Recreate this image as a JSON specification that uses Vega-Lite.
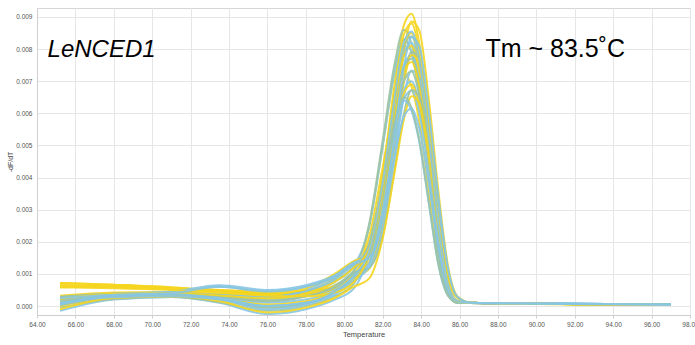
{
"$schema":"https://vega.github.io/schema/vega-lite/v6.json",
"width":653,"height":307,
"autosize":{"type":"none"},
"padding":{"left":37,"top":8,"right":5,"bottom":30},
"background":"white",
"config":{"view":{"stroke":"#d6d6d6"},"axis":{"labelFont":"Liberation Sans, sans-serif","titleFont":"Liberation Sans, sans-serif","labelColor":"#555555","titleColor":"#444444","titleFontWeight":"normal","domainColor":"#cfcfcf","tickColor":"#cfcfcf","gridColor":"#e6e6e6","labelOverlap":false}},
"datasets":{"curves":[
{"c":1,"g":"Y","t":65.2,"v":0.65},{"c":1,"g":"Y","t":68,"v":0.62},{"c":1,"g":"Y","t":71,"v":0.55},{"c":1,"g":"Y","t":73.5,"v":0.5},{"c":1,"g":"Y","t":76,"v":0.42},{"c":1,"g":"Y","t":78,"v":0.45},{"c":1,"g":"Y","t":79.5,"v":0.6},{"c":1,"g":"Y","t":80.5,"v":1.0},{"c":1,"g":"Y","t":81.3,"v":1.82},{"c":1,"g":"Y","t":82,"v":4.1},{"c":1,"g":"Y","t":82.6,"v":6.83},{"c":1,"g":"Y","t":83.1,"v":8.74},{"c":1,"g":"Y","t":83.5,"v":9.1},{"c":1,"g":"Y","t":83.9,"v":8.19},{"c":1,"g":"Y","t":84.4,"v":5.64},{"c":1,"g":"Y","t":84.9,"v":2.73},{"c":1,"g":"Y","t":85.4,"v":0.73},{"c":1,"g":"Y","t":85.9,"v":0.15},{"c":1,"g":"Y","t":86.6,"v":0.1},{"c":1,"g":"Y","t":90,"v":0.07},{"c":1,"g":"Y","t":97,"v":0.03},
{"c":4,"g":"Y","t":65.2,"v":0.6},{"c":4,"g":"Y","t":68,"v":0.58},{"c":4,"g":"Y","t":71,"v":0.52},{"c":4,"g":"Y","t":73.5,"v":0.45},{"c":4,"g":"Y","t":76,"v":0.35},{"c":4,"g":"Y","t":78,"v":0.35},{"c":4,"g":"Y","t":79.5,"v":0.5},{"c":4,"g":"Y","t":80.5,"v":0.8},{"c":4,"g":"Y","t":81.3,"v":2.49},{"c":4,"g":"Y","t":82,"v":4.98},{"c":4,"g":"Y","t":82.6,"v":7.22},{"c":4,"g":"Y","t":83.1,"v":8.3},{"c":4,"g":"Y","t":83.5,"v":7.89},{"c":4,"g":"Y","t":83.9,"v":6.64},{"c":4,"g":"Y","t":84.4,"v":4.15},{"c":4,"g":"Y","t":84.9,"v":1.66},{"c":4,"g":"Y","t":85.4,"v":0.42},{"c":4,"g":"Y","t":85.9,"v":0.1},{"c":4,"g":"Y","t":86.6,"v":0.09},{"c":4,"g":"Y","t":90,"v":0.06},{"c":4,"g":"Y","t":97,"v":0.03},
{"c":8,"g":"Y","t":65.2,"v":0.72},{"c":8,"g":"Y","t":68,"v":0.66},{"c":8,"g":"Y","t":71,"v":0.58},{"c":8,"g":"Y","t":73.5,"v":0.48},{"c":8,"g":"Y","t":76,"v":0.38},{"c":8,"g":"Y","t":78,"v":0.4},{"c":8,"g":"Y","t":79.5,"v":0.55},{"c":8,"g":"Y","t":80.5,"v":0.9},{"c":8,"g":"Y","t":81.3,"v":2.16},{"c":8,"g":"Y","t":82,"v":4.32},{"c":8,"g":"Y","t":82.6,"v":6.26},{"c":8,"g":"Y","t":83.1,"v":7.2},{"c":8,"g":"Y","t":83.5,"v":6.84},{"c":8,"g":"Y","t":83.9,"v":5.76},{"c":8,"g":"Y","t":84.4,"v":3.6},{"c":8,"g":"Y","t":84.9,"v":1.44},{"c":8,"g":"Y","t":85.4,"v":0.36},{"c":8,"g":"Y","t":85.9,"v":0.1},{"c":8,"g":"Y","t":86.6,"v":0.09},{"c":8,"g":"Y","t":90,"v":0.06},{"c":8,"g":"Y","t":97,"v":0.03},
{"c":14,"g":"B","t":65.2,"v":0.18},{"c":14,"g":"B","t":68,"v":0.33},{"c":14,"g":"B","t":71,"v":0.36},{"c":14,"g":"B","t":73.5,"v":0.32},{"c":14,"g":"B","t":76,"v":0.25},{"c":14,"g":"B","t":78,"v":0.4},{"c":14,"g":"B","t":79.5,"v":0.75},{"c":14,"g":"B","t":80.5,"v":1.25},{"c":14,"g":"B","t":81.3,"v":2.49},{"c":14,"g":"B","t":82,"v":4.98},{"c":14,"g":"B","t":82.6,"v":7.22},{"c":14,"g":"B","t":83.1,"v":8.3},{"c":14,"g":"B","t":83.5,"v":7.89},{"c":14,"g":"B","t":83.9,"v":6.64},{"c":14,"g":"B","t":84.4,"v":4.15},{"c":14,"g":"B","t":84.9,"v":1.66},{"c":14,"g":"B","t":85.4,"v":0.42},{"c":14,"g":"B","t":85.9,"v":0.1},{"c":14,"g":"B","t":86.6,"v":0.09},{"c":14,"g":"B","t":90,"v":0.07},{"c":14,"g":"B","t":97,"v":0.04},
{"c":22,"g":"G","t":65.2,"v":0.25},{"c":22,"g":"G","t":68,"v":0.37},{"c":22,"g":"G","t":71,"v":0.4},{"c":22,"g":"G","t":73.5,"v":0.28},{"c":22,"g":"G","t":76,"v":0.15},{"c":22,"g":"G","t":78,"v":0.3},{"c":22,"g":"G","t":79.5,"v":0.65},{"c":22,"g":"G","t":80.5,"v":1.1},{"c":22,"g":"G","t":81.3,"v":2.58},{"c":22,"g":"G","t":82,"v":5.16},{"c":22,"g":"G","t":82.6,"v":7.48},{"c":22,"g":"G","t":83.1,"v":8.6},{"c":22,"g":"G","t":83.5,"v":8.17},{"c":22,"g":"G","t":83.9,"v":6.88},{"c":22,"g":"G","t":84.4,"v":4.3},{"c":22,"g":"G","t":84.9,"v":1.72},{"c":22,"g":"G","t":85.4,"v":0.43},{"c":22,"g":"G","t":85.9,"v":0.1},{"c":22,"g":"G","t":86.6,"v":0.09},{"c":22,"g":"G","t":90,"v":0.07},{"c":22,"g":"G","t":97,"v":0.04},
{"c":2,"g":"Y","t":65.2,"v":0.72},{"c":2,"g":"Y","t":68,"v":0.66},{"c":2,"g":"Y","t":71,"v":0.58},{"c":2,"g":"Y","t":73.5,"v":0.48},{"c":2,"g":"Y","t":76,"v":0.38},{"c":2,"g":"Y","t":78,"v":0.4},{"c":2,"g":"Y","t":79.5,"v":0.55},{"c":2,"g":"Y","t":80.5,"v":0.9},{"c":2,"g":"Y","t":81.3,"v":1.16},{"c":2,"g":"Y","t":82,"v":2.86},{"c":2,"g":"Y","t":82.6,"v":5.55},{"c":2,"g":"Y","t":83.1,"v":7.88},{"c":2,"g":"Y","t":83.5,"v":8.86},{"c":2,"g":"Y","t":83.9,"v":8.59},{"c":2,"g":"Y","t":84.4,"v":6.44},{"c":2,"g":"Y","t":84.9,"v":3.58},{"c":2,"g":"Y","t":85.4,"v":1.25},{"c":2,"g":"Y","t":85.9,"v":0.3},{"c":2,"g":"Y","t":86.6,"v":0.1},{"c":2,"g":"Y","t":90,"v":0.07},{"c":2,"g":"Y","t":97,"v":0.03},
{"c":15,"g":"B","t":65.2,"v":-0.15},{"c":15,"g":"B","t":68,"v":0.2},{"c":15,"g":"B","t":71,"v":0.28},{"c":15,"g":"B","t":73.5,"v":0.1},{"c":15,"g":"B","t":76,"v":-0.25},{"c":15,"g":"B","t":78,"v":-0.1},{"c":15,"g":"B","t":79.5,"v":0.2},{"c":15,"g":"B","t":80.5,"v":0.55},{"c":15,"g":"B","t":81.3,"v":1.64},{"c":15,"g":"B","t":82,"v":3.69},{"c":15,"g":"B","t":82.6,"v":6.15},{"c":15,"g":"B","t":83.1,"v":7.87},{"c":15,"g":"B","t":83.5,"v":8.2},{"c":15,"g":"B","t":83.9,"v":7.38},{"c":15,"g":"B","t":84.4,"v":5.08},{"c":15,"g":"B","t":84.9,"v":2.46},{"c":15,"g":"B","t":85.4,"v":0.66},{"c":15,"g":"B","t":85.9,"v":0.15},{"c":15,"g":"B","t":86.6,"v":0.1},{"c":15,"g":"B","t":90,"v":0.08},{"c":15,"g":"B","t":97,"v":0.04},
{"c":23,"g":"G","t":65.2,"v":-0.05},{"c":23,"g":"G","t":68,"v":0.22},{"c":23,"g":"G","t":71,"v":0.28},{"c":23,"g":"G","t":73.5,"v":0.12},{"c":23,"g":"G","t":76,"v":-0.15},{"c":23,"g":"G","t":78,"v":0.0},{"c":23,"g":"G","t":79.5,"v":0.3},{"c":23,"g":"G","t":80.5,"v":0.7},{"c":23,"g":"G","t":81.3,"v":1.68},{"c":23,"g":"G","t":82,"v":3.78},{"c":23,"g":"G","t":82.6,"v":6.3},{"c":23,"g":"G","t":83.1,"v":8.06},{"c":23,"g":"G","t":83.5,"v":8.4},{"c":23,"g":"G","t":83.9,"v":7.56},{"c":23,"g":"G","t":84.4,"v":5.21},{"c":23,"g":"G","t":84.9,"v":2.52},{"c":23,"g":"G","t":85.4,"v":0.67},{"c":23,"g":"G","t":85.9,"v":0.15},{"c":23,"g":"G","t":86.6,"v":0.1},{"c":23,"g":"G","t":90,"v":0.07},{"c":23,"g":"G","t":97,"v":0.04},
{"c":5,"g":"Y","t":65.2,"v":0.0},{"c":5,"g":"Y","t":68,"v":0.28},{"c":5,"g":"Y","t":71,"v":0.33},{"c":5,"g":"Y","t":73.5,"v":0.18},{"c":5,"g":"Y","t":76,"v":-0.05},{"c":5,"g":"Y","t":78,"v":0.1},{"c":5,"g":"Y","t":79.5,"v":0.45},{"c":5,"g":"Y","t":80.5,"v":0.95},{"c":5,"g":"Y","t":81.3,"v":1.62},{"c":5,"g":"Y","t":82,"v":3.65},{"c":5,"g":"Y","t":82.6,"v":6.08},{"c":5,"g":"Y","t":83.1,"v":7.78},{"c":5,"g":"Y","t":83.5,"v":8.1},{"c":5,"g":"Y","t":83.9,"v":7.29},{"c":5,"g":"Y","t":84.4,"v":5.02},{"c":5,"g":"Y","t":84.9,"v":2.43},{"c":5,"g":"Y","t":85.4,"v":0.65},{"c":5,"g":"Y","t":85.9,"v":0.15},{"c":5,"g":"Y","t":86.6,"v":0.1},{"c":5,"g":"Y","t":90,"v":0.07},{"c":5,"g":"Y","t":97,"v":0.03},
{"c":16,"g":"B","t":65.2,"v":0.3},{"c":16,"g":"B","t":68,"v":0.4},{"c":16,"g":"B","t":71,"v":0.42},{"c":16,"g":"B","t":73.5,"v":0.35},{"c":16,"g":"B","t":76,"v":0.3},{"c":16,"g":"B","t":78,"v":0.5},{"c":16,"g":"B","t":79.5,"v":0.95},{"c":16,"g":"B","t":80.5,"v":1.4},{"c":16,"g":"B","t":81.3,"v":1.6},{"c":16,"g":"B","t":82,"v":3.51},{"c":16,"g":"B","t":82.6,"v":5.85},{"c":16,"g":"B","t":83.1,"v":7.49},{"c":16,"g":"B","t":83.5,"v":7.8},{"c":16,"g":"B","t":83.9,"v":7.02},{"c":16,"g":"B","t":84.4,"v":4.84},{"c":16,"g":"B","t":84.9,"v":2.34},{"c":16,"g":"B","t":85.4,"v":0.62},{"c":16,"g":"B","t":85.9,"v":0.15},{"c":16,"g":"B","t":86.6,"v":0.1},{"c":16,"g":"B","t":90,"v":0.08},{"c":16,"g":"B","t":97,"v":0.04},
{"c":24,"g":"G","t":65.2,"v":0.25},{"c":24,"g":"G","t":68,"v":0.35},{"c":24,"g":"G","t":71,"v":0.4},{"c":24,"g":"G","t":73.5,"v":0.6},{"c":24,"g":"G","t":76,"v":0.45},{"c":24,"g":"G","t":78,"v":0.6},{"c":24,"g":"G","t":79.5,"v":0.9},{"c":24,"g":"G","t":80.5,"v":1.3},{"c":24,"g":"G","t":81.3,"v":1.5},{"c":24,"g":"G","t":82,"v":2.56},{"c":24,"g":"G","t":82.6,"v":4.96},{"c":24,"g":"G","t":83.1,"v":7.04},{"c":24,"g":"G","t":83.5,"v":7.92},{"c":24,"g":"G","t":83.9,"v":7.68},{"c":24,"g":"G","t":84.4,"v":5.76},{"c":24,"g":"G","t":84.9,"v":3.2},{"c":24,"g":"G","t":85.4,"v":1.12},{"c":24,"g":"G","t":85.9,"v":0.28},{"c":24,"g":"G","t":86.6,"v":0.1},{"c":24,"g":"G","t":90,"v":0.07},{"c":24,"g":"G","t":97,"v":0.04},
{"c":6,"g":"Y","t":65.2,"v":0.65},{"c":6,"g":"Y","t":68,"v":0.6},{"c":6,"g":"Y","t":71,"v":0.54},{"c":6,"g":"Y","t":73.5,"v":0.5},{"c":6,"g":"Y","t":76,"v":0.44},{"c":6,"g":"Y","t":78,"v":0.48},{"c":6,"g":"Y","t":79.5,"v":0.62},{"c":6,"g":"Y","t":80.5,"v":1.0},{"c":6,"g":"Y","t":81.3,"v":1.2},{"c":6,"g":"Y","t":82,"v":2.53},{"c":6,"g":"Y","t":82.6,"v":4.9},{"c":6,"g":"Y","t":83.1,"v":6.95},{"c":6,"g":"Y","t":83.5,"v":7.82},{"c":6,"g":"Y","t":83.9,"v":7.58},{"c":6,"g":"Y","t":84.4,"v":5.69},{"c":6,"g":"Y","t":84.9,"v":3.16},{"c":6,"g":"Y","t":85.4,"v":1.11},{"c":6,"g":"Y","t":85.9,"v":0.28},{"c":6,"g":"Y","t":86.6,"v":0.1},{"c":6,"g":"Y","t":90,"v":0.07},{"c":6,"g":"Y","t":97,"v":0.03},
{"c":17,"g":"B","t":65.2,"v":0.15},{"c":17,"g":"B","t":68,"v":0.3},{"c":17,"g":"B","t":71,"v":0.32},{"c":17,"g":"B","t":73.5,"v":0.25},{"c":17,"g":"B","t":76,"v":0.1},{"c":17,"g":"B","t":78,"v":0.2},{"c":17,"g":"B","t":79.5,"v":0.5},{"c":17,"g":"B","t":80.5,"v":1.0},{"c":17,"g":"B","t":81.3,"v":1.2},{"c":17,"g":"B","t":82,"v":2.37},{"c":17,"g":"B","t":82.6,"v":4.59},{"c":17,"g":"B","t":83.1,"v":6.51},{"c":17,"g":"B","t":83.5,"v":7.33},{"c":17,"g":"B","t":83.9,"v":7.1},{"c":17,"g":"B","t":84.4,"v":5.33},{"c":17,"g":"B","t":84.9,"v":2.96},{"c":17,"g":"B","t":85.4,"v":1.04},{"c":17,"g":"B","t":85.9,"v":0.26},{"c":17,"g":"B","t":86.6,"v":0.1},{"c":17,"g":"B","t":90,"v":0.08},{"c":17,"g":"B","t":97,"v":0.04},
{"c":25,"g":"G","t":65.2,"v":0.02},{"c":25,"g":"G","t":68,"v":0.28},{"c":25,"g":"G","t":71,"v":0.33},{"c":25,"g":"G","t":73.5,"v":0.22},{"c":25,"g":"G","t":76,"v":-0.05},{"c":25,"g":"G","t":78,"v":0.08},{"c":25,"g":"G","t":79.5,"v":0.42},{"c":25,"g":"G","t":80.5,"v":0.92},{"c":25,"g":"G","t":81.3,"v":1.54},{"c":25,"g":"G","t":82,"v":3.47},{"c":25,"g":"G","t":82.6,"v":5.78},{"c":25,"g":"G","t":83.1,"v":7.39},{"c":25,"g":"G","t":83.5,"v":7.7},{"c":25,"g":"G","t":83.9,"v":6.93},{"c":25,"g":"G","t":84.4,"v":4.77},{"c":25,"g":"G","t":84.9,"v":2.31},{"c":25,"g":"G","t":85.4,"v":0.62},{"c":25,"g":"G","t":85.9,"v":0.15},{"c":25,"g":"G","t":86.6,"v":0.1},{"c":25,"g":"G","t":90,"v":0.07},{"c":25,"g":"G","t":97,"v":0.04},
{"c":7,"g":"Y","t":65.2,"v":0.32},{"c":7,"g":"Y","t":68,"v":0.42},{"c":7,"g":"Y","t":71,"v":0.44},{"c":7,"g":"Y","t":73.5,"v":0.38},{"c":7,"g":"Y","t":76,"v":0.35},{"c":7,"g":"Y","t":78,"v":0.55},{"c":7,"g":"Y","t":79.5,"v":1.0},{"c":7,"g":"Y","t":80.5,"v":1.4},{"c":7,"g":"Y","t":81.3,"v":1.6},{"c":7,"g":"Y","t":82,"v":3.42},{"c":7,"g":"Y","t":82.6,"v":5.7},{"c":7,"g":"Y","t":83.1,"v":7.3},{"c":7,"g":"Y","t":83.5,"v":7.6},{"c":7,"g":"Y","t":83.9,"v":6.84},{"c":7,"g":"Y","t":84.4,"v":4.71},{"c":7,"g":"Y","t":84.9,"v":2.28},{"c":7,"g":"Y","t":85.4,"v":0.61},{"c":7,"g":"Y","t":85.9,"v":0.15},{"c":7,"g":"Y","t":86.6,"v":0.1},{"c":7,"g":"Y","t":90,"v":0.07},{"c":7,"g":"Y","t":97,"v":0.03},
{"c":18,"g":"B","t":65.2,"v":0.28},{"c":18,"g":"B","t":68,"v":0.38},{"c":18,"g":"B","t":71,"v":0.45},{"c":18,"g":"B","t":73.5,"v":0.65},{"c":18,"g":"B","t":76,"v":0.5},{"c":18,"g":"B","t":78,"v":0.65},{"c":18,"g":"B","t":79.5,"v":0.95},{"c":18,"g":"B","t":80.5,"v":1.35},{"c":18,"g":"B","t":81.3,"v":1.55},{"c":18,"g":"B","t":82,"v":3.15},{"c":18,"g":"B","t":82.6,"v":5.25},{"c":18,"g":"B","t":83.1,"v":6.72},{"c":18,"g":"B","t":83.5,"v":7.0},{"c":18,"g":"B","t":83.9,"v":6.3},{"c":18,"g":"B","t":84.4,"v":4.34},{"c":18,"g":"B","t":84.9,"v":2.1},{"c":18,"g":"B","t":85.4,"v":0.56},{"c":18,"g":"B","t":85.9,"v":0.15},{"c":18,"g":"B","t":86.6,"v":0.1},{"c":18,"g":"B","t":90,"v":0.08},{"c":18,"g":"B","t":97,"v":0.04},
{"c":26,"g":"G","t":65.2,"v":0.28},{"c":26,"g":"G","t":68,"v":0.38},{"c":26,"g":"G","t":71,"v":0.4},{"c":26,"g":"G","t":73.5,"v":0.32},{"c":26,"g":"G","t":76,"v":0.25},{"c":26,"g":"G","t":78,"v":0.45},{"c":26,"g":"G","t":79.5,"v":0.85},{"c":26,"g":"G","t":80.5,"v":1.3},{"c":26,"g":"G","t":81.3,"v":1.6},{"c":26,"g":"G","t":82,"v":3.29},{"c":26,"g":"G","t":82.6,"v":5.48},{"c":26,"g":"G","t":83.1,"v":7.01},{"c":26,"g":"G","t":83.5,"v":7.3},{"c":26,"g":"G","t":83.9,"v":6.57},{"c":26,"g":"G","t":84.4,"v":4.53},{"c":26,"g":"G","t":84.9,"v":2.19},{"c":26,"g":"G","t":85.4,"v":0.58},{"c":26,"g":"G","t":85.9,"v":0.15},{"c":26,"g":"G","t":86.6,"v":0.1},{"c":26,"g":"G","t":90,"v":0.07},{"c":26,"g":"G","t":97,"v":0.04},
{"c":9,"g":"Y","t":65.2,"v":0.12},{"c":9,"g":"Y","t":68,"v":0.28},{"c":9,"g":"Y","t":71,"v":0.3},{"c":9,"g":"Y","t":73.5,"v":0.22},{"c":9,"g":"Y","t":76,"v":0.05},{"c":9,"g":"Y","t":78,"v":0.15},{"c":9,"g":"Y","t":79.5,"v":0.45},{"c":9,"g":"Y","t":80.5,"v":0.95},{"c":9,"g":"Y","t":81.3,"v":1.38},{"c":9,"g":"Y","t":82,"v":3.11},{"c":9,"g":"Y","t":82.6,"v":5.18},{"c":9,"g":"Y","t":83.1,"v":6.62},{"c":9,"g":"Y","t":83.5,"v":6.9},{"c":9,"g":"Y","t":83.9,"v":6.21},{"c":9,"g":"Y","t":84.4,"v":4.28},{"c":9,"g":"Y","t":84.9,"v":2.07},{"c":9,"g":"Y","t":85.4,"v":0.55},{"c":9,"g":"Y","t":85.9,"v":0.15},{"c":9,"g":"Y","t":86.6,"v":0.1},{"c":9,"g":"Y","t":90,"v":0.07},{"c":9,"g":"Y","t":97,"v":0.03},
{"c":19,"g":"B","t":65.2,"v":0.05},{"c":19,"g":"B","t":68,"v":0.3},{"c":19,"g":"B","t":71,"v":0.35},{"c":19,"g":"B","t":73.5,"v":0.2},{"c":19,"g":"B","t":76,"v":-0.1},{"c":19,"g":"B","t":78,"v":0.05},{"c":19,"g":"B","t":79.5,"v":0.4},{"c":19,"g":"B","t":80.5,"v":0.9},{"c":19,"g":"B","t":81.3,"v":1.34},{"c":19,"g":"B","t":82,"v":3.02},{"c":19,"g":"B","t":82.6,"v":5.03},{"c":19,"g":"B","t":83.1,"v":6.43},{"c":19,"g":"B","t":83.5,"v":6.7},{"c":19,"g":"B","t":83.9,"v":6.03},{"c":19,"g":"B","t":84.4,"v":4.15},{"c":19,"g":"B","t":84.9,"v":2.01},{"c":19,"g":"B","t":85.4,"v":0.54},{"c":19,"g":"B","t":85.9,"v":0.15},{"c":19,"g":"B","t":86.6,"v":0.1},{"c":19,"g":"B","t":90,"v":0.08},{"c":19,"g":"B","t":97,"v":0.04},
{"c":27,"g":"G","t":65.2,"v":0.18},{"c":27,"g":"G","t":68,"v":0.32},{"c":27,"g":"G","t":71,"v":0.35},{"c":27,"g":"G","t":73.5,"v":0.3},{"c":27,"g":"G","t":76,"v":0.2},{"c":27,"g":"G","t":78,"v":0.3},{"c":27,"g":"G","t":79.5,"v":0.6},{"c":27,"g":"G","t":80.5,"v":1.05},{"c":27,"g":"G","t":81.3,"v":1.2},{"c":27,"g":"G","t":82,"v":2.18},{"c":27,"g":"G","t":82.6,"v":4.22},{"c":27,"g":"G","t":83.1,"v":5.98},{"c":27,"g":"G","t":83.5,"v":6.73},{"c":27,"g":"G","t":83.9,"v":6.53},{"c":27,"g":"G","t":84.4,"v":4.9},{"c":27,"g":"G","t":84.9,"v":2.72},{"c":27,"g":"G","t":85.4,"v":0.95},{"c":27,"g":"G","t":85.9,"v":0.25},{"c":27,"g":"G","t":86.6,"v":0.1},{"c":27,"g":"G","t":90,"v":0.07},{"c":27,"g":"G","t":97,"v":0.04},
{"c":10,"g":"Y","t":65.2,"v":-0.1},{"c":10,"g":"Y","t":68,"v":0.25},{"c":10,"g":"Y","t":71,"v":0.3},{"c":10,"g":"Y","t":73.5,"v":0.15},{"c":10,"g":"Y","t":76,"v":-0.2},{"c":10,"g":"Y","t":78,"v":-0.05},{"c":10,"g":"Y","t":79.5,"v":0.25},{"c":10,"g":"Y","t":80.5,"v":0.6},{"c":10,"g":"Y","t":81.3,"v":0.86},{"c":10,"g":"Y","t":82,"v":2.11},{"c":10,"g":"Y","t":82.6,"v":4.09},{"c":10,"g":"Y","t":83.1,"v":5.81},{"c":10,"g":"Y","t":83.5,"v":6.53},{"c":10,"g":"Y","t":83.9,"v":6.34},{"c":10,"g":"Y","t":84.4,"v":4.75},{"c":10,"g":"Y","t":84.9,"v":2.64},{"c":10,"g":"Y","t":85.4,"v":0.92},{"c":10,"g":"Y","t":85.9,"v":0.25},{"c":10,"g":"Y","t":86.6,"v":0.1},{"c":10,"g":"Y","t":90,"v":0.07},{"c":10,"g":"Y","t":97,"v":0.03},
{"c":20,"g":"B","t":65.2,"v":0.22},{"c":20,"g":"B","t":68,"v":0.36},{"c":20,"g":"B","t":71,"v":0.4},{"c":20,"g":"B","t":73.5,"v":0.35},{"c":20,"g":"B","t":76,"v":0.28},{"c":20,"g":"B","t":78,"v":0.45},{"c":20,"g":"B","t":79.5,"v":0.8},{"c":20,"g":"B","t":80.5,"v":1.25},{"c":20,"g":"B","t":81.3,"v":1.92},{"c":20,"g":"B","t":82,"v":3.84},{"c":20,"g":"B","t":82.6,"v":5.57},{"c":20,"g":"B","t":83.1,"v":6.4},{"c":20,"g":"B","t":83.5,"v":6.08},{"c":20,"g":"B","t":83.9,"v":5.12},{"c":20,"g":"B","t":84.4,"v":3.2},{"c":20,"g":"B","t":84.9,"v":1.28},{"c":20,"g":"B","t":85.4,"v":0.32},{"c":20,"g":"B","t":85.9,"v":0.1},{"c":20,"g":"B","t":86.6,"v":0.09},{"c":20,"g":"B","t":90,"v":0.08},{"c":20,"g":"B","t":97,"v":0.04},
{"c":28,"g":"G","t":65.2,"v":0.1},{"c":28,"g":"G","t":68,"v":0.32},{"c":28,"g":"G","t":71,"v":0.36},{"c":28,"g":"G","t":73.5,"v":0.28},{"c":28,"g":"G","t":76,"v":0.15},{"c":28,"g":"G","t":78,"v":0.3},{"c":28,"g":"G","t":79.5,"v":0.6},{"c":28,"g":"G","t":80.5,"v":1.1},{"c":28,"g":"G","t":81.3,"v":1.95},{"c":28,"g":"G","t":82,"v":3.9},{"c":28,"g":"G","t":82.6,"v":5.66},{"c":28,"g":"G","t":83.1,"v":6.5},{"c":28,"g":"G","t":83.5,"v":6.18},{"c":28,"g":"G","t":83.9,"v":5.2},{"c":28,"g":"G","t":84.4,"v":3.25},{"c":28,"g":"G","t":84.9,"v":1.3},{"c":28,"g":"G","t":85.4,"v":0.33},{"c":28,"g":"G","t":85.9,"v":0.1},{"c":28,"g":"G","t":86.6,"v":0.09},{"c":28,"g":"G","t":90,"v":0.07},{"c":28,"g":"G","t":97,"v":0.04},
{"c":3,"g":"Y","t":65.2,"v":0.22},{"c":3,"g":"Y","t":68,"v":0.38},{"c":3,"g":"Y","t":71,"v":0.4},{"c":3,"g":"Y","t":73.5,"v":0.33},{"c":3,"g":"Y","t":76,"v":0.24},{"c":3,"g":"Y","t":78,"v":0.4},{"c":3,"g":"Y","t":79.5,"v":0.75},{"c":3,"g":"Y","t":80.5,"v":1.2},{"c":3,"g":"Y","t":81.3,"v":1.76},{"c":3,"g":"Y","t":82,"v":3.96},{"c":3,"g":"Y","t":82.6,"v":6.6},{"c":3,"g":"Y","t":83.1,"v":8.45},{"c":3,"g":"Y","t":83.5,"v":8.8},{"c":3,"g":"Y","t":83.9,"v":7.92},{"c":3,"g":"Y","t":84.4,"v":5.46},{"c":3,"g":"Y","t":84.9,"v":2.64},{"c":3,"g":"Y","t":85.4,"v":0.7},{"c":3,"g":"Y","t":85.9,"v":0.15},{"c":3,"g":"Y","t":86.6,"v":0.1},{"c":3,"g":"Y","t":90,"v":0.07},{"c":3,"g":"Y","t":97,"v":0.03},
{"c":21,"g":"B","t":65.2,"v":0.1},{"c":21,"g":"B","t":68,"v":0.27},{"c":21,"g":"B","t":71,"v":0.3},{"c":21,"g":"B","t":73.5,"v":0.2},{"c":21,"g":"B","t":76,"v":0.0},{"c":21,"g":"B","t":78,"v":0.1},{"c":21,"g":"B","t":79.5,"v":0.35},{"c":21,"g":"B","t":80.5,"v":0.8},{"c":21,"g":"B","t":81.3,"v":1.23},{"c":21,"g":"B","t":82,"v":2.77},{"c":21,"g":"B","t":82.6,"v":4.61},{"c":21,"g":"B","t":83.1,"v":5.9},{"c":21,"g":"B","t":83.5,"v":6.15},{"c":21,"g":"B","t":83.9,"v":5.54},{"c":21,"g":"B","t":84.4,"v":3.81},{"c":21,"g":"B","t":84.9,"v":1.85},{"c":21,"g":"B","t":85.4,"v":0.49},{"c":21,"g":"B","t":85.9,"v":0.15},{"c":21,"g":"B","t":86.6,"v":0.1},{"c":21,"g":"B","t":90,"v":0.08},{"c":21,"g":"B","t":97,"v":0.04},
{"c":11,"g":"Y","t":65.2,"v":0.58},{"c":11,"g":"Y","t":68,"v":0.55},{"c":11,"g":"Y","t":71,"v":0.5},{"c":11,"g":"Y","t":73.5,"v":0.42},{"c":11,"g":"Y","t":76,"v":0.32},{"c":11,"g":"Y","t":78,"v":0.3},{"c":11,"g":"Y","t":79.5,"v":0.42},{"c":11,"g":"Y","t":80.5,"v":0.75},{"c":11,"g":"Y","t":81.3,"v":1.7},{"c":11,"g":"Y","t":82,"v":3.83},{"c":11,"g":"Y","t":82.6,"v":6.38},{"c":11,"g":"Y","t":83.1,"v":8.16},{"c":11,"g":"Y","t":83.5,"v":8.5},{"c":11,"g":"Y","t":83.9,"v":7.65},{"c":11,"g":"Y","t":84.4,"v":5.27},{"c":11,"g":"Y","t":84.9,"v":2.55},{"c":11,"g":"Y","t":85.4,"v":0.68},{"c":11,"g":"Y","t":85.9,"v":0.15},{"c":11,"g":"Y","t":86.6,"v":0.1},{"c":11,"g":"Y","t":90,"v":0.07},{"c":11,"g":"Y","t":97,"v":0.03},
{"c":12,"g":"B","t":65.2,"v":0.08},{"c":12,"g":"B","t":68,"v":0.32},{"c":12,"g":"B","t":71,"v":0.37},{"c":12,"g":"B","t":73.5,"v":0.25},{"c":12,"g":"B","t":76,"v":0.0},{"c":12,"g":"B","t":78,"v":0.1},{"c":12,"g":"B","t":79.5,"v":0.45},{"c":12,"g":"B","t":80.5,"v":0.95},{"c":12,"g":"B","t":81.3,"v":1.71},{"c":12,"g":"B","t":82,"v":3.85},{"c":12,"g":"B","t":82.6,"v":6.41},{"c":12,"g":"B","t":83.1,"v":8.21},{"c":12,"g":"B","t":83.5,"v":8.55},{"c":12,"g":"B","t":83.9,"v":7.7},{"c":12,"g":"B","t":84.4,"v":5.3},{"c":12,"g":"B","t":84.9,"v":2.57},{"c":12,"g":"B","t":85.4,"v":0.68},{"c":12,"g":"B","t":85.9,"v":0.15},{"c":12,"g":"B","t":86.6,"v":0.1},{"c":12,"g":"B","t":90,"v":0.07},{"c":12,"g":"B","t":97,"v":0.04},
{"c":13,"g":"B","t":65.2,"v":0.25},{"c":13,"g":"B","t":68,"v":0.35},{"c":13,"g":"B","t":71,"v":0.4},{"c":13,"g":"B","t":73.5,"v":0.6},{"c":13,"g":"B","t":76,"v":0.45},{"c":13,"g":"B","t":78,"v":0.6},{"c":13,"g":"B","t":79.5,"v":0.9},{"c":13,"g":"B","t":80.5,"v":1.3},{"c":13,"g":"B","t":81.3,"v":1.5},{"c":13,"g":"B","t":82,"v":2.7},{"c":13,"g":"B","t":82.6,"v":5.24},{"c":13,"g":"B","t":83.1,"v":7.44},{"c":13,"g":"B","t":83.5,"v":8.37},{"c":13,"g":"B","t":83.9,"v":8.11},{"c":13,"g":"B","t":84.4,"v":6.08},{"c":13,"g":"B","t":84.9,"v":3.38},{"c":13,"g":"B","t":85.4,"v":1.18},{"c":13,"g":"B","t":85.9,"v":0.28},{"c":13,"g":"B","t":86.6,"v":0.1},{"c":13,"g":"B","t":90,"v":0.08},{"c":13,"g":"B","t":97,"v":0.04}
]},
"layer":[
{"data":{"name":"curves"},
 "mark":{"type":"line","interpolate":"monotone","strokeWidth":2,"opacity":0.9,"clip":true},
 "encoding":{
  "x":{"field":"t","type":"quantitative","scale":{"domain":[64,98],"nice":false,"zero":false},
   "axis":{"values":[64,66,68,70,72,74,76,78,80,82,84,86,88,90,92,94,96,98],"tickCount":40,"format":".2f","title":"Temperature","labelFontSize":6.5,"titleFontSize":7.5,"tickSize":3,"labelPadding":3,"titlePadding":3,"grid":true,"labelOverlap":false,"labelFlush":false}},
  "y":{"field":"v","type":"quantitative","scale":{"domain":[-0.28,9.28],"nice":false,"zero":false},
   "axis":{"values":[0,1,2,3,4,5,6,7,8,9],"tickCount":20,"labelExpr":"format(datum.value/1000,'.3f')","title":"-dF/dT","labelFontSize":6.5,"titleFontSize":7,"ticks":false,"labelPadding":5,"titlePadding":2,"grid":true,"labelOverlap":false}},
  "detail":{"field":"c","type":"nominal"},
  "color":{"field":"g","type":"nominal","scale":{"domain":["B","G","Y"],"range":["#86C5E5","#9CC3A5","#F5D51F"]},"legend":null}
 }},
{"data":{"values":[{"label":"LeNCED1"}]},
 "mark":{"type":"text","align":"left","baseline":"alphabetic","fontSize":24,"fontStyle":"italic","font":"Liberation Sans, sans-serif","color":"#000000"},
 "encoding":{"x":{"datum":64.55},"y":{"datum":7.76},"text":{"field":"label"}}},
{"data":{"values":[{"label":"Tm ~ 83.5˚C"}]},
 "mark":{"type":"text","align":"left","baseline":"alphabetic","fontSize":25,"font":"Liberation Sans, sans-serif","color":"#000000"},
 "encoding":{"x":{"datum":87.35},"y":{"datum":7.76},"text":{"field":"label"}}}
]
}
